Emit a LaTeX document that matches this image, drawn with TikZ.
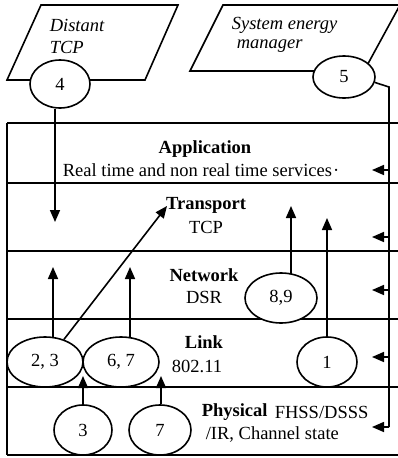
\documentclass[tikz,border=0pt]{standalone}
\usepackage{fontspec}
\setmainfont{Liberation Serif}
\usetikzlibrary{arrows.meta,shapes.geometric}
\begin{document}
\begin{tikzpicture}[x=1pt,y=-1pt,line width=1.6pt,
  every node/.style={font=\fontsize{18.5}{20}\selectfont,inner sep=0pt},
  lbl/.style={font=\fontsize{18.5}{20}\selectfont\bfseries},
  itl/.style={font=\fontsize{18.5}{20}\selectfont\itshape,anchor=west},
  oval/.style={ellipse,draw,fill=white,inner sep=0pt},
  arr/.style={-{Triangle[length=12pt,width=10pt]}}]
\useasboundingbox (0,0) rectangle (398,458);
% top parallelograms
\draw (41,5) -- (178,5) -- (145,80) -- (7,80) -- cycle;
\draw (223,5) -- (400,5) -- (364,71) -- (190,71) -- cycle;
\node[itl] (dist1) at (49,25) {Distant};
\node[itl] (dist2) at (49,47) {TCP};
\node[itl] (sys1) at (231,25) {System energy};
\node[itl] (sys2) at (236,46) {manager};
% table
\draw (7,123) -- (398,123);
\draw (7,183) -- (398,183);
\draw (7,251) -- (398,251);
\draw (7,319) -- (398,319);
\draw (7,387) -- (398,387);
\draw (7,455) -- (398,455);
\draw (7,123) -- (7,455);
% layer texts
\node[lbl] (appT) at (205,149) {Application};
\node (appS) at (201,170) {Real time and non real time services\kern1pt·};
\node[lbl] (trT) at (206,205) {Transport};
\node (trS) at (206,227) {TCP};
\node[lbl] (nwT) at (204,275) {Network};
\node (nwS) at (204,297) {DSR};
\node[lbl] (lkT) at (204,342) {Link};
\node (lkS) at (197,366) {802.11};
\node[lbl,anchor=west] (phT) at (201,412) {Physical};
\node[anchor=west] (phS1) at (274,412) {FHSS/DSSS};
\node[anchor=west] (phS2) at (205,434) {/IR, Channel state};
% ovals
\node[oval,minimum width=60pt,minimum height=48pt] (o4) at (60,84) {4};
\node[oval,minimum width=62pt,minimum height=42pt] (o5) at (344,77) {5};
\node[oval,minimum width=76pt,minimum height=50pt] (o23) at (45,362) {2, 3};
\node[oval,minimum width=76pt,minimum height=50pt] (o67) at (121,362) {6, 7};
\node[oval,minimum width=58pt,minimum height=50pt] (o3) at (83,430) {3};
\node[oval,minimum width=62pt,minimum height=50pt] (o7) at (160,430) {7};
\node[oval,minimum width=60pt,minimum height=50pt] (o1) at (327,362) {1};
\node[oval,minimum width=72pt,minimum height=50pt] (o89) at (281,298) {8,9};
% arrow ends
\coordinate (t4) at (55,222);
\coordinate (t23) at (53,267);
\coordinate (t67) at (130,267);
\coordinate (tdiag) at (167,206);
\coordinate (t89) at (291,206);
\coordinate (t1) at (327,218);
\coordinate (t3) at (83,376);
\coordinate (t7) at (161,376);
% arrows
\draw[arr] (t4 |- o4.south) -- (t4);
\draw[arr] (53,338) -- (t23);
\draw[arr] (130,338) -- (t67);
\draw[arr] (o23.50) -- (tdiag);
\draw[arr] (291,274) -- (t89);
\draw[arr] (o1.north) -- (t1);
\draw[arr] (o3.north) -- (t3);
\draw[arr] (t7 |- o7.north) -- (t7);
% energy manager bus
\coordinate (bTop) at (389,87);
\coordinate (bBot) at (389,427);
\coordinate (aApp) at (372,170);
\coordinate (aTr) at (372,237);
\coordinate (aNw) at (372,290);
\coordinate (aLk) at (372,357);
\coordinate (aPh) at (372,427);
\draw (o5.-10) -- (bTop) -- (bBot);
\draw[arr] (bBot) -- (aPh);
\draw[arr] (aApp -| bTop) -- (aApp);
\draw[arr] (aTr -| bTop) -- (aTr);
\draw[arr] (aNw -| bTop) -- (aNw);
\draw[arr] (aLk -| bTop) -- (aLk);
\end{tikzpicture}
\end{document}
